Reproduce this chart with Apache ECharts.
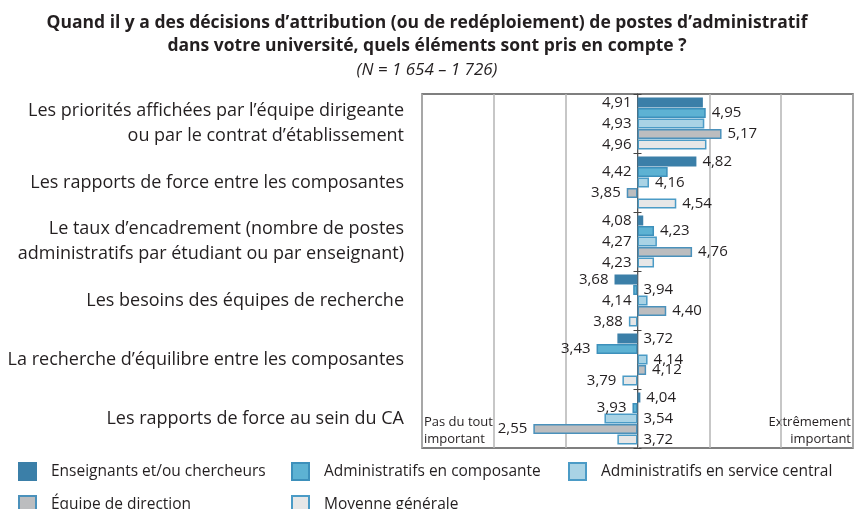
<!DOCTYPE html>
<html>
<head>
<meta charset="utf-8">
<script src="https://cdn.jsdelivr.net/npm/echarts@6/dist/echarts.min.js"></script>
<style>
  html, body { margin: 0; padding: 0; background: #fff; }
  #main { width: 854px; height: 509px; }
</style>
</head>
<body>
<div id="main"></div>
<script>
// catégories (de haut en bas)
const categories = [
  'Les priorités affichées par l’équipe dirigeante\nou par le contrat d’établissement',
  'Les rapports de force entre les composantes',
  'Le taux d’encadrement (nombre de postes\nadministratifs par étudiant ou par enseignant)',
  'Les besoins des équipes de recherche',
  'La recherche d’équilibre entre les composantes',
  'Les rapports de force au sein du CA'
]
const seriesNames = [
  'Enseignants et/ou chercheurs',
  'Administratifs en composante',
  'Administratifs en service central',
  'Équipe de direction',
  'Moyenne générale'
]
// valeurs moyennes sur l'échelle 1 à 7
const enseignants = [4.91, 4.82, 4.08, 3.68, 3.72, 4.04]
const adminComposante = [4.95, 4.42, 4.23, 3.94, 3.43, 3.93]
const adminCentral = [4.93, 4.16, 4.27, 4.14, 4.14, 3.54]
const equipeDirection = [5.17, 3.85, 4.76, 4.40, 4.12, 2.55]
const moyenne = [4.96, 4.54, 4.23, 3.88, 3.79, 3.72]
const allValues = [enseignants, adminComposante, adminCentral, equipeDirection, moyenne]

const scaleMin = 1, scaleMax = 7, midPoint = 4

// côté de l'étiquette (gauche/droite) pour chaque barre
const labelSides = [
  ['left', 'right', 'left', 'left', 'right', 'right'],
  ['right', 'left', 'right', 'right', 'left', 'left'],
  ['left', 'right', 'left', 'left', 'right', 'right'],
  ['right', 'left', 'right', 'right', 'right', 'left'],
  ['left', 'right', 'left', 'left', 'left', 'right']
]
const colors = ['#3b7fa8', '#5db2d3', '#a9d3e5', '#bcbdbf', '#e7e7e7']
const borders = ['#3b7fa8', '#3d90bb', '#4b9bc6', '#4b91bb', '#4b9bc6']
// emplacement des légendes [gauche, haut]
const legendSpots = [[18, 462], [291, 462], [568, 462], [18, 495], [291, 495]]

const fontName = '"Open Sans", Lato, sans-serif'
const textColor = '#231f20'

var myChart = echarts.init(document.getElementById('main'))

var series = allValues.map(function (vals, i) {
  return {
    name: seriesNames[i],
    type: 'bar',
    barWidth: 10,
    barGap: '5%',
    yAxisIndex: 0,
    itemStyle: { color: colors[i], borderColor: borders[i], borderWidth: 1.5 },
    data: vals.map(function (v, j) {
      return {
        value: +(v - midPoint).toFixed(2),
        label: { position: labelSides[i][j] }
      }
    }),
    label: {
      show: true,
      distance: 6,
      fontFamily: fontName,
      fontSize: 15,
      color: textColor,
      formatter: function (p) {
        return (p.value + midPoint).toFixed(2).replace('.', ',')
      }
    },
    silent: true
  }
})

var tickAxis = function (inside) {
  return {
    type: 'category',
    inverse: true,
    data: categories,
    axisLine: { show: true, onZero: true, onZeroAxisIndex: 0, lineStyle: { color: '#555', width: 1 } },
    axisTick: { show: true, inside: inside, length: 4, lineStyle: { color: '#444', width: 1 } },
    axisLabel: { show: false },
    splitLine: { show: false }
  }
}

var option = {
  animation: false,
  title: {
    text: 'Quand il y a des décisions d’attribution (ou de redéploiement) de postes d’administratif\ndans votre université, quels éléments sont pris en compte ?',
    subtext: '(N = 1 654 – 1 726)',
    left: 'center',
    top: 7,
    itemGap: 1,
    textStyle: { fontFamily: fontName, fontSize: 17.5, fontWeight: 'bold', color: textColor, lineHeight: 23 },
    subtextStyle: { fontFamily: fontName, fontSize: 17, fontStyle: 'italic', color: textColor, lineHeight: 22 }
  },
  legend: seriesNames.map(function (name, i) {
    return {
      data: [name],
      left: legendSpots[i][0],
      top: legendSpots[i][1],
      padding: 0,
      itemWidth: 17,
      itemHeight: 17,
      icon: 'rect',
      textStyle: { fontFamily: fontName, fontSize: 15.5, color: textColor, padding: [0, 0, 0, 10] }
    }
  }),
  grid: {
    left: 422, right: 1, top: 94, bottom: 61,
    show: true, borderColor: '#555', borderWidth: 1.5
  },
  xAxis: {
    type: 'value',
    min: scaleMin - midPoint,
    max: scaleMax - midPoint,
    interval: 1,
    axisLine: { show: false },
    axisTick: { show: false },
    axisLabel: { show: false },
    splitLine: { show: true, lineStyle: { color: '#b5b5b5', width: 1.5 } }
  },
  yAxis: [
    {
      type: 'category',
      inverse: true,
      data: categories,
      axisLine: { show: false, onZero: false },
      axisTick: { show: false },
      axisLabel: {
        margin: 18,
        fontFamily: fontName,
        fontSize: 18,
        lineHeight: 25,
        color: textColor,
        align: 'right'
      }
    },
    tickAxis(false),
    tickAxis(true)
  ],
  graphic: [
    {
      type: 'text', left: 424, top: 414,
      style: { text: 'Pas du tout\nimportant', fontFamily: fontName, fontSize: 13, lineHeight: 17, fill: textColor }
    },
    {
      type: 'text', right: 3, top: 414,
      style: { text: 'Extrêmement\nimportant', fontFamily: fontName, fontSize: 13, lineHeight: 17, fill: textColor, textAlign: 'right', align: 'right' }
    }
  ],
  series: series
}

myChart.setOption(option)
</script>
</body>
</html>
